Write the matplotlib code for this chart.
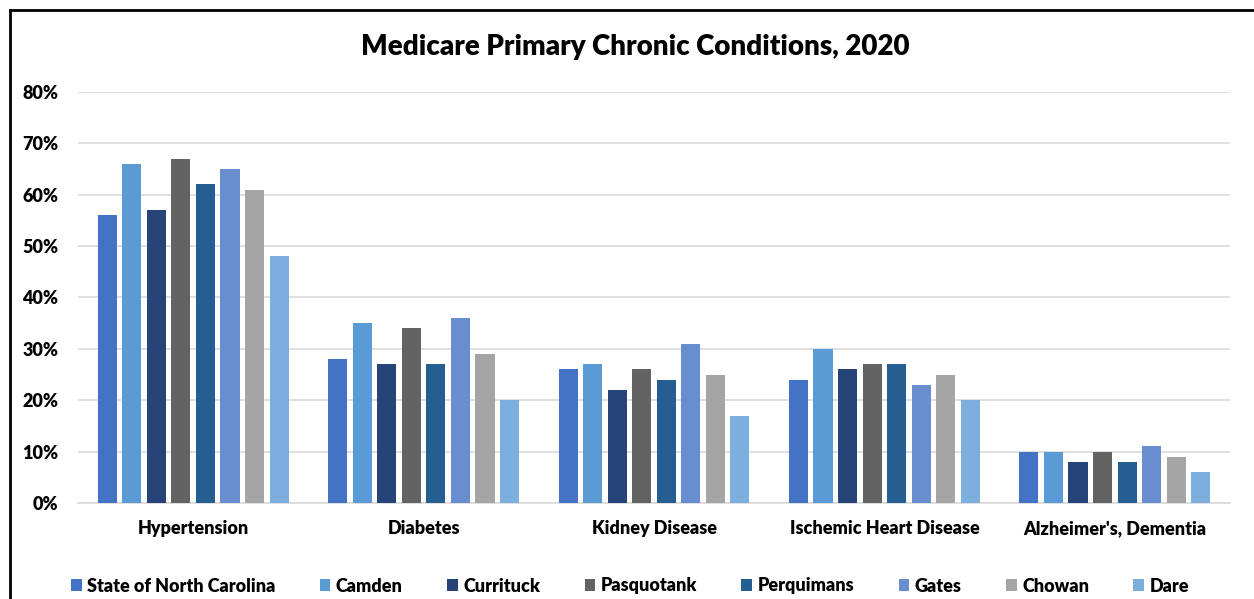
import matplotlib.pyplot as plt
import numpy as np
from matplotlib.lines import Line2D
from matplotlib.ticker import PercentFormatter

plt.rcParams['font.family'] = ['Lato', 'DejaVu Sans']
plt.rcParams['font.weight'] = 'heavy'

categories = ["Hypertension", "Diabetes", "Kidney Disease",
              "Ischemic Heart Disease", "Alzheimer's, Dementia"]
series = ["State of North Carolina", "Camden", "Currituck", "Pasquotank",
          "Perquimans", "Gates", "Chowan", "Dare"]
values = {
    "State of North Carolina": [56, 28, 26, 24, 10],
    "Camden": [66, 35, 27, 30, 10],
    "Currituck": [57, 27, 22, 26, 8],
    "Pasquotank": [67, 34, 26, 27, 10],
    "Perquimans": [62, 27, 24, 27, 8],
    "Gates": [65, 36, 31, 23, 11],
    "Chowan": [61, 29, 25, 25, 9],
    "Dare": [48, 20, 17, 20, 6],
}
colors = ["#4472C4", "#5B9BD5", "#264478", "#636363",
          "#255E91", "#698ED0", "#A5A5A5", "#7CAFDD"]

fig = plt.figure(figsize=(12.54, 5.99), dpi=100)
ax = fig.add_axes([78 / 1254, 96 / 599, 1152 / 1254, 411 / 599])

x = np.arange(len(categories))
step = 0.1065
width = 0.083
for i, s in enumerate(series):
    ax.bar(x + (i - 3.5) * step, np.array(values[s]) / 100, width,
           color=colors[i], label=s, zorder=3)

ax.set_xlim(-0.5, len(categories) - 0.5)
ax.set_ylim(0, 0.8)
ax.set_yticks(np.arange(0, 0.81, 0.1))
ax.yaxis.set_major_formatter(PercentFormatter(1.0, decimals=0))
ax.grid(axis='y', color='#D9D9D9', linewidth=1.2, zorder=0)
for sp in ['top', 'right', 'left']:
    ax.spines[sp].set_visible(False)
ax.spines['bottom'].set_color('#D9D9D9')
ax.spines['bottom'].set_linewidth(1.2)
ax.tick_params(axis='y', length=0, labelsize=13, pad=14)
ax.tick_params(axis='x', length=0, pad=12)
ax.set_xticks(x)
ax.set_xticklabels(categories, fontsize=13, fontweight='heavy')
for lbl in ax.get_yticklabels():
    lbl.set_fontweight('heavy')

fig.text(635 / 1254, 1 - 47 / 599, "Medicare Primary Chronic Conditions, 2020",
         ha='center', va='center', fontsize=20, fontweight='heavy')

ax.legend(loc='center', bbox_to_anchor=((630 - 78) / 1152, (13 - 96) / 411),
          ncol=8, frameon=False, fontsize=13, handlelength=0.6,
          handleheight=0.6, handletextpad=0.3, columnspacing=2.45)

# outer frame (top and left edges)
fig.add_artist(Line2D([10 / 1254, 1], [1 - 10 / 599, 1 - 10 / 599],
                      color='black', linewidth=2, transform=fig.transFigure))
fig.add_artist(Line2D([10 / 1254, 10 / 1254], [0, 1 - 10 / 599],
                      color='black', linewidth=2, transform=fig.transFigure))

fig.savefig("out.png", dpi=100)
